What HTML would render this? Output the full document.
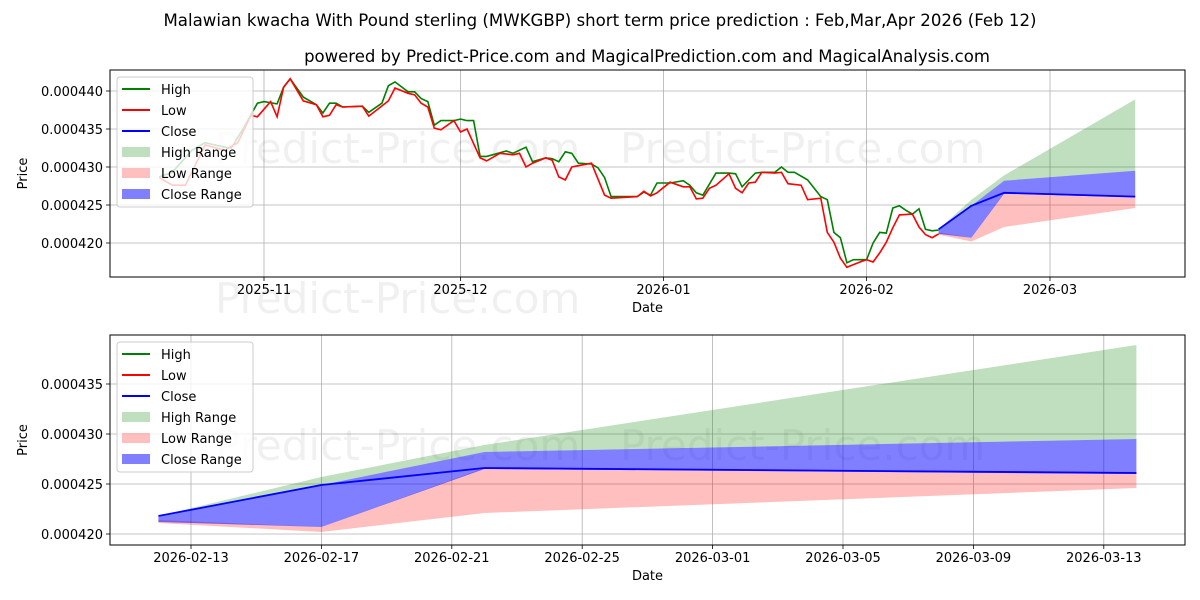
<!DOCTYPE html>
<html><head><meta charset="utf-8"><style>
html,body{margin:0;padding:0;background:#fff;}
svg{display:block;font-family:"DejaVu Sans","Liberation Sans",sans-serif;}
</style></head><body>
<svg id="chart" width="1200" height="600" viewBox="0 0 1200 600" xmlns="http://www.w3.org/2000/svg">
<text x="600" y="26" text-anchor="middle" font-size="16.6">Malawian kwacha With Pound sterling (MWKGBP) short term price prediction : Feb,Mar,Apr 2026 (Feb 12)</text>
<text x="647" y="62" text-anchor="middle" font-size="16.5">powered by Predict-Price.com and MagicalPrediction.com and MagicalAnalysis.com</text>
<g id="top"></g>
<g id="bot"></g>
</svg>
<script>
const highDates=["2025-10-16","2025-10-18","2025-10-21","2025-10-23","2025-10-26","2025-10-27","2025-10-29","2025-10-31","2025-11-01","2025-11-03","2025-11-04","2025-11-05","2025-11-07","2025-11-09","2025-11-10","2025-11-11","2025-11-12","2025-11-13","2025-11-16","2025-11-17","2025-11-19","2025-11-20","2025-11-21","2025-11-23","2025-11-24","2025-11-25","2025-11-26","2025-11-27","2025-11-28","2025-11-30","2025-12-01","2025-12-02","2025-12-03","2025-12-04","2025-12-05","2025-12-08","2025-12-09","2025-12-11","2025-12-12","2025-12-14","2025-12-15","2025-12-16","2025-12-17","2025-12-18","2025-12-19","2025-12-21","2025-12-22","2025-12-23","2025-12-24","2025-12-28","2025-12-29","2025-12-30","2025-12-31","2026-01-02","2026-01-04","2026-01-05","2026-01-06","2026-01-07","2026-01-09","2026-01-11","2026-01-12","2026-01-13","2026-01-15","2026-01-16","2026-01-18","2026-01-19","2026-01-20","2026-01-21","2026-01-23","2026-01-25","2026-01-26","2026-01-27","2026-01-28","2026-01-29","2026-01-30","2026-02-01","2026-02-02","2026-02-03","2026-02-04","2026-02-05","2026-02-06","2026-02-07","2026-02-08","2026-02-09","2026-02-10","2026-02-11","2026-02-12"];
const highValues=[428.7e-6,429.3e-6,432.2e-6,433.2e-6,432.6e-6,432.5e-6,435.3e-6,438.4e-6,438.6e-6,438.3e-6,440.5e-6,441.6e-6,439.2e-6,438.2e-6,437.1e-6,438.4e-6,438.4e-6,437.9e-6,438.0e-6,437.2e-6,438.4e-6,440.7e-6,441.2e-6,439.9e-6,439.9e-6,439.0e-6,438.6e-6,435.5e-6,436.1e-6,436.1e-6,436.3e-6,436.1e-6,436.1e-6,431.4e-6,431.4e-6,432.1e-6,431.8e-6,432.6e-6,430.7e-6,431.2e-6,431.1e-6,430.7e-6,432.0e-6,431.8e-6,430.5e-6,430.4e-6,429.9e-6,428.6e-6,426.1e-6,426.1e-6,426.7e-6,426.3e-6,427.9e-6,427.9e-6,428.2e-6,427.6e-6,426.6e-6,426.3e-6,429.2e-6,429.2e-6,429.1e-6,427.4e-6,429.2e-6,429.3e-6,429.3e-6,430.0e-6,429.3e-6,429.3e-6,428.3e-6,426.1e-6,425.7e-6,421.4e-6,420.7e-6,417.4e-6,417.8e-6,417.8e-6,420.0e-6,421.4e-6,421.3e-6,424.6e-6,424.9e-6,424.3e-6,423.8e-6,424.5e-6,421.8e-6,421.6e-6,421.7e-6];
const lowDates=["2025-10-16","2025-10-18","2025-10-20","2025-10-23","2025-10-26","2025-10-28","2025-10-30","2025-10-31","2025-11-02","2025-11-03","2025-11-04","2025-11-05","2025-11-07","2025-11-09","2025-11-10","2025-11-11","2025-11-12","2025-11-13","2025-11-16","2025-11-17","2025-11-20","2025-11-21","2025-11-23","2025-11-24","2025-11-25","2025-11-26","2025-11-27","2025-11-28","2025-11-30","2025-12-01","2025-12-02","2025-12-04","2025-12-05","2025-12-07","2025-12-09","2025-12-10","2025-12-11","2025-12-12","2025-12-14","2025-12-15","2025-12-16","2025-12-17","2025-12-18","2025-12-21","2025-12-23","2025-12-24","2025-12-28","2025-12-29","2025-12-30","2025-12-31","2026-01-02","2026-01-04","2026-01-05","2026-01-06","2026-01-07","2026-01-08","2026-01-09","2026-01-11","2026-01-12","2026-01-13","2026-01-14","2026-01-15","2026-01-16","2026-01-18","2026-01-19","2026-01-20","2026-01-22","2026-01-23","2026-01-25","2026-01-26","2026-01-27","2026-01-28","2026-01-29","2026-01-31","2026-02-01","2026-02-02","2026-02-03","2026-02-04","2026-02-05","2026-02-06","2026-02-08","2026-02-09","2026-02-10","2026-02-11","2026-02-12"];
const lowValues=[428.6e-6,427.6e-6,427.6e-6,432.9e-6,432.2e-6,433.2e-6,436.8e-6,436.6e-6,438.6e-6,436.6e-6,440.5e-6,441.6e-6,438.7e-6,438.2e-6,436.6e-6,436.8e-6,438.2e-6,437.9e-6,438.0e-6,436.7e-6,438.7e-6,440.4e-6,439.7e-6,439.5e-6,438.4e-6,437.9e-6,435.1e-6,434.9e-6,436.1e-6,434.6e-6,435.0e-6,431.2e-6,430.8e-6,431.8e-6,431.6e-6,431.8e-6,430.0e-6,430.5e-6,431.2e-6,430.9e-6,428.7e-6,428.3e-6,430.0e-6,430.5e-6,426.3e-6,425.9e-6,426.1e-6,426.8e-6,426.2e-6,426.6e-6,428.0e-6,427.4e-6,427.4e-6,425.8e-6,425.9e-6,427.2e-6,427.6e-6,429.1e-6,427.2e-6,426.6e-6,427.9e-6,428.0e-6,429.3e-6,429.2e-6,429.3e-6,427.8e-6,427.6e-6,425.7e-6,425.9e-6,421.4e-6,420.1e-6,418.0e-6,416.8e-6,417.5e-6,417.8e-6,417.5e-6,418.7e-6,420.1e-6,422.0e-6,423.7e-6,423.8e-6,422.1e-6,421.1e-6,420.7e-6,421.2e-6];
const fcDates=["2026-02-12","2026-02-17","2026-02-22","2026-03-14"];
const fcClose=[421.8e-6,424.9e-6,426.6e-6,426.1e-6];
const fcHighTop=[421.8e-6,425.7e-6,428.9e-6,438.9e-6];
const fcHighBottom=[421.7e-6,424.9e-6,428.2e-6,429.5e-6];
const fcCloseTop=[421.7e-6,424.9e-6,428.2e-6,429.5e-6];
const fcCloseBottom=[421.2e-6,420.7e-6,426.5e-6,426.0e-6];
const fcLowTop=[421.4e-6,420.7e-6,426.6e-6,426.2e-6];
const fcLowBottom=[421.1e-6,420.2e-6,422.1e-6,424.6e-6];
const topXTicks=["2025-11-01","2025-12-01","2026-01-01","2026-02-01","2026-03-01"];
const topXTickLabels=["2025-11","2025-12","2026-01","2026-02","2026-03"];
const topYTicks=[0.000420,0.000425,0.000430,0.000435,0.000440];
const botXTicks=["2026-02-13","2026-02-17","2026-02-21","2026-02-25","2026-03-01","2026-03-05","2026-03-09","2026-03-13"];
const botYTicks=[0.000420,0.000425,0.000430,0.000435];

const NS="http://www.w3.org/2000/svg";
const DAY=86400000;
function t(s){return Date.parse(s+"T00:00:00Z");}
function mk(parent,tag,attrs){const e=document.createElementNS(NS,tag);for(const k in attrs)e.setAttribute(k,attrs[k]);parent.appendChild(e);return e;}
function pts(xs,ys,X,Y){return xs.map((d,i)=>X(t(d)).toFixed(1)+","+Y(ys[i]).toFixed(1)).join(" ");}
function band(xs,top,bot,X,Y){const a=xs.map((d,i)=>X(t(d)).toFixed(1)+","+Y(top[i]).toFixed(1));const b=xs.map((d,i)=>X(t(d)).toFixed(1)+","+Y(bot[i]).toFixed(1)).reverse();return a.concat(b).join(" ");}

function panel(g,cfg){
  const {L,R,T,B,X,Y,xt,xl,yt,yl,withHist,wm}=cfg;
  xt.forEach((d,i)=>{const x=X(t(d));
    const gl=mk(g,"line",{x1:x,x2:x,y1:T,y2:B,stroke:"#b0b0b0","stroke-width":0.8});
    
    
    mk(g,"line",{x1:x,x2:x,y1:B,y2:B+4,stroke:"#000","stroke-width":0.8});
    const tx=mk(g,"text",{x:x,y:B+17,"text-anchor":"middle","font-size":13});
    tx.textContent=xl[i];
    
    
  });
  yt.forEach((v,i)=>{const y=Y(v);
    const gl=mk(g,"line",{x1:L,x2:R,y1:y,y2:y,stroke:"#b0b0b0","stroke-width":0.8});
    
    
    mk(g,"line",{x1:L-4,x2:L,y1:y,y2:y,stroke:"#000","stroke-width":0.8});
    const tx=mk(g,"text",{x:L-7,y:y+5,"text-anchor":"end","font-size":13});
    tx.textContent=yl[i];
    
    
  });
  wm.forEach(w=>{const tx=mk(g,"text",{x:w[0],y:w[1],"font-size":42,fill:"#000","fill-opacity":0.06});
    tx.textContent="Predict-Price.com";
    
    });
  const hb=mk(g,"polygon",{points:band(fcDates,fcHighTop,fcHighBottom,X,Y),fill:"#008000","fill-opacity":0.25});
  
  
  const lb=mk(g,"polygon",{points:band(fcDates,fcLowTop,fcLowBottom,X,Y),fill:"#ff0000","fill-opacity":0.25});
  
  
  const cb=mk(g,"polygon",{points:band(fcDates,fcCloseTop,fcCloseBottom,X,Y),fill:"#0000ff","fill-opacity":0.5});
  
  
  if(withHist){
    const hl=mk(g,"polyline",{points:pts(highDates,highValues,X,Y),fill:"none",stroke:"#008000","stroke-width":1.6});
    
    
    const ll=mk(g,"polyline",{points:pts(lowDates,lowValues,X,Y),fill:"none",stroke:"#ff0000","stroke-width":1.6});
    
    
  }
  const cl=mk(g,"polyline",{points:pts(fcDates,fcClose,X,Y),fill:"none",stroke:"#0000ff","stroke-width":1.8});
  
  
  const fr=mk(g,"rect",{x:L,y:T,width:R-L,height:B-T,fill:"none",stroke:"#000","stroke-width":1});
  
  
  const xlab=mk(g,"text",{x:(L+R)/2,y:B+35,"text-anchor":"middle","font-size":13});
  xlab.textContent="Date";
  
  
  const ylab=mk(g,"text",{x:0,y:0,"text-anchor":"middle","font-size":13,transform:`translate(27,${(T+B)/2}) rotate(-90)`});
  ylab.textContent="Price";
  
  
  const lg=mk(g,"g",{});
  
  
  const ly=T+7;
  mk(lg,"rect",{x:117,y:ly,width:136,height:130,rx:3,fill:"#fff","fill-opacity":0.8,stroke:"#ccc"});
  const items=[["High","line","#008000",1],["Low","line","#ff0000",1],["Close","line","#0000ff",1],["High Range","box","#008000",0.25],["Low Range","box","#ff0000",0.25],["Close Range","box","#0000ff",0.5]];
  items.forEach((it,i)=>{const cy=ly+12+i*21;
    if(it[1]==="line")mk(lg,"line",{x1:122,x2:150,y1:cy,y2:cy,stroke:it[2],"stroke-width":2});
    else mk(lg,"rect",{x:122,y:cy-5,width:28,height:10,fill:it[2],"fill-opacity":it[3]});
    const tx=mk(lg,"text",{x:161,y:cy+5,"font-size":13});
    tx.textContent=it[0];
    
    
  });
}
const fmt=v=>v.toFixed(6);
const t0=t("2025-11-01");
panel(document.getElementById("top"),{L:110,R:1185,T:70,B:277,
  X:ms=>264+(ms-t0)/DAY*6.55,
  Y:v=>243-(v-0.000420)/0.000005*38,
  xt:topXTicks,xl:topXTickLabels,yt:topYTicks,yl:topYTicks.map(fmt),withHist:true,
  wm:[[215,163],[620,163],[215,313]]});
const t1=t("2026-02-13");
panel(document.getElementById("bot"),{L:110,R:1185,T:335,B:545,
  X:ms=>191+(ms-t1)/DAY*32.6,
  Y:v=>534-(v-0.000420)/0.000005*50,
  xt:botXTicks,xl:botXTicks,yt:botYTicks,yl:botYTicks.map(fmt),withHist:false,
  wm:[[215,460],[620,460]]});
</script>
</body></html>
